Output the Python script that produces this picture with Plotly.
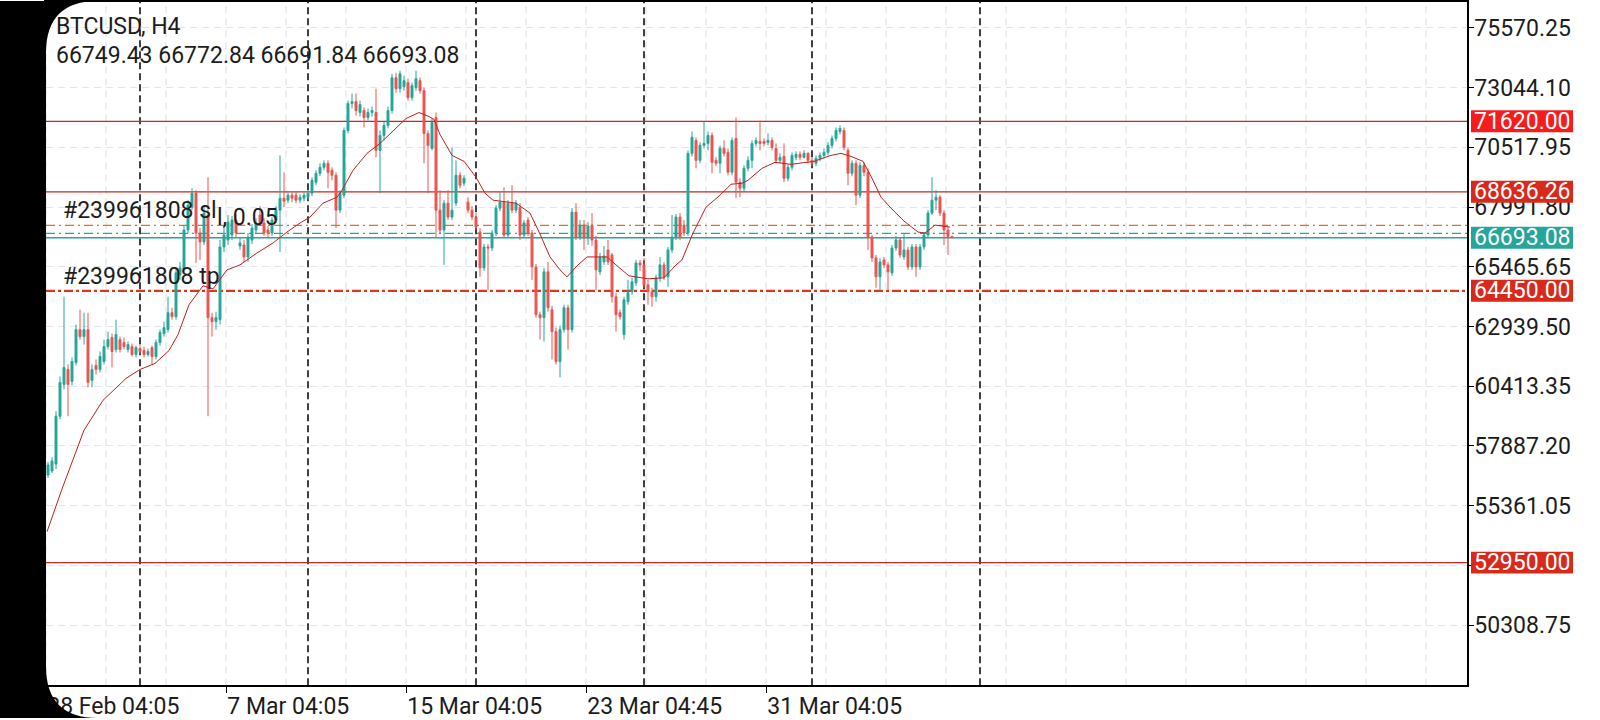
import plotly.graph_objects as go

W, H = 1600, 720
PL, PR, PT, PB = 46, 1467, 1, 687

def px(x):
    return x / W

def py(y):
    return 1 - y / H

symbol_title = "BTCUSD, H4"
ohlc_text = "66749.43 66772.84 66691.84 66693.08"

opens = [56658, 56827, 57121, 59143, 60490, 61123, 60617, 61418, 62807, 62512,
         62807, 60659, 61291, 61123, 61460, 62091, 62470, 61965, 62386, 62260,
         61965, 62091, 61754, 62007, 61923, 61754, 62049, 61670, 62260, 62639,
         62807, 63524, 63355, 65124, 65335, 67019, 67988, 68578, 66893, 66514,
         67651, 63313, 63145, 63229, 66303, 66598, 66809, 67441, 66345, 66387,
         65882, 66598, 67019, 67651, 67315, 67019, 66893, 67441, 67862, 68367,
         68283, 68494, 68494, 68283, 68367, 68409, 68578, 69041, 69420, 69673,
         69842, 69547, 69336, 67862, 68494, 71231, 72369, 72453, 71990, 72074,
         71779, 71990, 71990, 70389, 71021, 71442, 72074, 73464, 73000, 73084,
         73253, 72621, 73042, 73337, 72916, 71105, 70473, 71779, 67862, 67019,
         68157, 67567, 68157, 69336, 68999, 68199, 67862, 67567, 66935, 65419,
         66303, 66261, 66893, 67946, 68199, 66809, 68157, 67862, 67988, 66809,
         67441, 66893, 65461, 63439, 63313, 65251, 63650, 62723, 61460, 62807,
         63734, 62807, 67778, 66724, 67230, 66682, 67230, 66598, 65251, 65672,
         66177, 65966, 64197, 63524, 62596, 63987, 64408, 64787, 65630, 65545,
         64702, 64408, 64197, 64998, 65545, 65040, 66177, 66724, 67567, 67230,
         66893, 70263, 70810, 69968, 70600, 70684, 71021, 69968, 69842, 70473,
         70305, 69463, 70894, 69041, 68788, 69631, 69968, 70684, 70768, 70768,
         70726, 70810, 70473, 69968, 70136, 69210, 69673, 70094, 70221, 70094,
         70263, 69968, 69842, 70052, 70178, 70305, 70600, 70894, 71189, 71231,
         70389, 69420, 69842, 68494, 69757, 69463, 66724, 65840, 65040, 65756,
         65545, 65208, 66261, 66598, 65882, 66177, 65461, 66303, 65461, 66303,
         66809, 67736, 68283, 68409, 67736, 67019, 66749.43]
highs = [57205, 57416, 59354, 60828, 64197, 61333, 61628, 63018, 63650, 63524,
         63524, 61333, 61544, 61881, 62386, 62723, 62639, 63229, 62512, 62470,
         62302, 62218, 62133, 62175, 62091, 62007, 62133, 62386, 62807, 63145,
         64197, 63734, 65419, 65672, 67230, 68283, 68788, 68704, 67104, 68072,
         69252, 63524, 63566, 66598, 67104, 67651, 67609, 67694, 66682, 66598,
         66893, 67273, 67525, 68030, 67525, 67188, 67567, 68030, 70178, 69463,
         68620, 68620, 68662, 68536, 68620, 68704, 69252, 69547, 69842, 69968,
         69968, 69673, 69463, 68704, 71358, 72495, 72790, 72790, 72495, 72200,
         72158, 72242, 73000, 71231, 71611, 72242, 73632, 73674, 73759, 73548,
         73422, 73253, 73759, 73464, 73042, 71231, 71737, 71990, 68704, 68283,
         68704, 70515, 69968, 69463, 69336, 68409, 68030, 67736, 67104, 66430,
         66430, 67019, 68072, 68620, 68830, 68283, 68915, 68283, 68157, 67441,
         67567, 67019, 65588, 63566, 65419, 65672, 63818, 62892, 62976, 63860,
         63860, 67946, 68157, 67441, 67441, 67357, 67736, 66766, 66051, 66345,
         66598, 66051, 64366, 63650, 64197, 64913, 64998, 65756, 65756, 65840,
         64913, 64577, 65124, 65882, 65672, 66303, 67651, 67694, 67736, 67441,
         70389, 71189, 70936, 70726, 71611, 71189, 71147, 70094, 70600, 70810,
         70473, 70936, 71779, 69210, 69757, 70136, 70810, 70936, 71653, 70894,
         71105, 70936, 70684, 70263, 70684, 69799, 70305, 70347, 70347, 70389,
         70305, 70094, 70178, 70305, 70473, 70726, 71021, 71358, 71442, 71358,
         70515, 69968, 69968, 69884, 69884, 69631, 66809, 65966, 65840, 65882,
         65672, 66387, 66766, 66724, 66893, 66303, 66430, 66430, 66430, 66935,
         67862, 69252, 68704, 68494, 67862, 67146, 66772.84]
lows = [56532, 56743, 56911, 59017, 60280, 59143, 60448, 61291, 62386, 62175,
        60364, 60364, 60912, 60997, 61333, 61965, 61207, 61839, 61839, 61965,
        61839, 61670, 61628, 61754, 61628, 61670, 61333, 61544, 62133, 62512,
        62681, 63229, 63229, 64913, 65251, 66893, 67862, 65630, 65756, 66387,
        59143, 62512, 62807, 63018, 66093, 66387, 66598, 66682, 66177, 65672,
        65672, 66430, 66893, 67188, 66766, 66724, 66766, 67315, 66093, 67988,
        68157, 68199, 68157, 68157, 68241, 68283, 68451, 68915, 69294, 69547,
        68788, 69125, 67104, 67736, 68367, 71105, 72158, 71863, 71821, 71358,
        71653, 71821, 70094, 68578, 70810, 71316, 71948, 72832, 72832, 72916,
        72495, 72495, 72916, 72790, 69842, 68578, 70389, 66682, 66893, 65545,
        67441, 67441, 68030, 68788, 68873, 67736, 67441, 67019, 65040, 65293,
        64492, 66135, 66766, 67820, 66682, 66682, 67736, 67736, 66598, 66682,
        66766, 64913, 63313, 62386, 62302, 63566, 61544, 61333, 60786, 62681,
        61965, 62681, 66598, 66598, 66177, 66387, 66345, 64492, 65124, 65545,
        65545, 63945, 62723, 63229, 62386, 63860, 64281, 64661, 65293, 64577,
        63860, 63776, 63987, 64829, 64913, 64619, 66051, 66598, 66598, 66766,
        66766, 70136, 69631, 69842, 70473, 70389, 69420, 69715, 69420, 70136,
        69336, 69336, 68367, 68409, 68662, 69505, 69631, 70557, 70389, 70557,
        70600, 70389, 69842, 69842, 69041, 69083, 69547, 69968, 69968, 70052,
        69842, 69715, 69715, 69926, 70052, 70178, 70473, 70768, 71063, 70389,
        68915, 69294, 68072, 68367, 69294, 66177, 65672, 64577, 64492, 65419,
        64492, 65082, 66135, 65840, 65756, 65335, 65335, 65040, 65335, 66177,
        66682, 67651, 67862, 67609, 66387, 65966, 66691.84]
closes = [57079, 57248, 59143, 60575, 61207, 60490, 61460, 62807, 62512, 62807,
          60575, 61123, 61123, 61670, 62091, 62386, 61881, 62596, 61965, 62091,
          62175, 61754, 62049, 61881, 61754, 61881, 61670, 62260, 62681, 62892,
          63524, 63355, 65208, 65419, 67019, 68072, 68578, 66893, 66514, 67736,
          63313, 63145, 63313, 66303, 66809, 67357, 67441, 66893, 66472, 65882,
          66724, 67104, 67315, 67315, 66893, 66893, 67441, 67862, 68367, 68241,
          68494, 68367, 68283, 68409, 68494, 68578, 69125, 69420, 69673, 69842,
          69463, 69336, 67862, 68578, 71231, 72369, 72453, 72074, 72327, 71779,
          71990, 72074, 70389, 71021, 71442, 72074, 73464, 73000, 73632, 73337,
          72621, 73126, 73422, 72916, 71105, 70600, 71569, 67862, 67019, 68157,
          67567, 67862, 69336, 68915, 69210, 67862, 67567, 67146, 65419, 66303,
          66261, 66893, 67946, 68199, 66809, 68157, 67862, 68157, 66809, 67315,
          66893, 65461, 63439, 63313, 65251, 63734, 62723, 61460, 62807, 63734,
          62807, 67778, 66724, 67230, 66682, 67188, 66598, 65335, 65882, 65924,
          65672, 64197, 63439, 63355, 64071, 64366, 64829, 65630, 65545, 64702,
          64408, 64197, 64998, 65545, 65040, 66177, 66724, 67567, 66724, 66893,
          70263, 70936, 69968, 70600, 70684, 71021, 69884, 69842, 70473, 70263,
          69463, 70810, 69041, 68788, 69631, 69968, 70684, 70810, 70684, 70684,
          70810, 70515, 69968, 70094, 69210, 69673, 70178, 70221, 70094, 70263,
          69968, 69842, 70052, 70178, 70305, 70600, 70894, 71231, 71316, 70515,
          69420, 69842, 68494, 69757, 69463, 66724, 65840, 65040, 65672, 65545,
          65251, 66261, 66598, 65966, 66177, 65461, 66303, 65461, 66303, 66809,
          67736, 68283, 68409, 67736, 67019, 66749.43, 66693.08]

ma_index = [-0.25, 3.5, 9, 13.75, 19.5, 23, 26.75, 30.25, 32.5, 35.25, 38.75, 41.25,
            44.75, 48, 52.25, 56.25, 59.75, 63, 65.5, 68.75, 72.25, 73.5, 76.25, 79.75,
            83, 86.25, 89.5, 92.75, 95.25, 96.5, 98, 101, 104, 107, 109.25, 111.25,
            117, 120.5, 123, 125.5, 128, 129.75, 132.25, 134.75, 139.75, 142, 145.25,
            150, 154, 157, 158.5, 161.25, 164.5, 168, 170.75, 173.5, 175, 178.5,
            181.75, 185.75, 191.5, 195.75, 198.25, 200.75, 203.75, 206, 208.25,
            210.75, 214, 217.5, 219.25, 221.75, 224.25, 225.5]
ma_values = [54257, 56068, 58553, 59817, 60743, 61123, 61376, 61923, 62596, 63860, 64661, 64534,
             65335, 65545, 66051, 66472, 66935, 67315, 67567, 68157, 68409, 68704, 69547, 70263,
             70684, 71231, 71737, 71990, 71821, 71695, 71063, 70178, 69926, 69252, 68578, 68283,
             68157, 67736, 66851, 65882, 65335, 65040, 65503, 65882, 65882, 65545, 65082,
             64956, 64998, 65545, 65756, 66893, 67988, 68494, 68957, 68999, 69125, 69631,
             69884, 69799, 69926, 70178, 70263, 70136, 69926, 69210, 68409,
             67946, 67399, 66935, 66893, 67230, 67188, 67146]

y_ticks = [50308.75, 52834.90, 55361.05, 57887.20, 60413.35, 62939.50,
           65465.65, 67991.80, 70517.95, 73044.10, 75570.25]
y_range = [47769, 76666]

x_tick_index = [-0.5, 44.5, 89.5, 134.5, 179.5]
x_tick_labels = ["28 Feb 04:05", "7 Mar 04:05", "15 Mar 04:05", "23 Mar 04:45", "31 Mar 04:05"]
x_range = [-0.5, 354.75]
grid_index = [-0.5 + 15 * k for k in range(24)]
separator_index = [23, 65, 107, 149, 191, 233]

level_prices = [71620.00, 68636.26, 52950.00]
tp_price = 64450.00
sl_price = 67218
entry_price = 66881
bid_price = 66693.08

price_labels = [71620.00, 68636.26, 66693.08, 64450.00, 52950.00]
price_label_colors = ["#f71b1b", "#d9291b", "#26a69a", "#d9291b", "#d9291b"]

TEAL = "#26a69a"
RED = "#ef5350"
LEVEL_RED = "#c4281f"
GRID = "#dfe5ea"
FONT = "Roboto"


def price_to_py(p):
    return PT + (y_range[1] - p) / (y_range[1] - y_range[0]) * (PB - PT)


fig = go.Figure()
n = len(opens)
fig.add_trace(go.Candlestick(
    x=list(range(n)), open=opens, high=highs, low=lows, close=closes,
    increasing=dict(line=dict(color=TEAL, width=1), fillcolor=TEAL),
    decreasing=dict(line=dict(color=RED, width=1), fillcolor=RED),
    whiskerwidth=0, showlegend=False, hoverinfo="skip"))
fig.add_trace(go.Scatter(
    x=ma_index, y=ma_values, mode="lines",
    line=dict(color="#c0201a", width=1), showlegend=False, hoverinfo="skip"))

shapes = []
for g in grid_index:
    shapes.append(dict(type="line", xref="x", yref="paper", x0=g, x1=g,
                       y0=py(PB), y1=py(PT), layer="below",
                       line=dict(color=GRID, width=1.2, dash="7px,5px")))
for s in separator_index:
    shapes.append(dict(type="line", xref="x", yref="paper", x0=s, x1=s,
                       y0=py(PB), y1=py(PT), layer="between",
                       line=dict(color="#000000", width=1.5, dash="7px,4px")))
for lv in level_prices:
    shapes.append(dict(type="line", xref="paper", yref="y", x0=px(PL), x1=px(PR),
                       y0=lv, y1=lv, layer="between",
                       line=dict(color=LEVEL_RED, width=1.3)))
shapes.append(dict(type="line", xref="paper", yref="y", x0=px(PL), x1=px(PR),
                   y0=tp_price, y1=tp_price, layer="between",
                   line=dict(color="#e0341c", width=2.2, dash="9px,3px,3px,3px")))
shapes.append(dict(type="line", xref="paper", yref="y", x0=px(PL), x1=px(PR),
                   y0=sl_price, y1=sl_price, layer="between",
                   line=dict(color="#e0702e", width=1.2, dash="9px,4px,2px,4px")))
shapes.append(dict(type="line", xref="paper", yref="y", x0=px(PL), x1=px(PR),
                   y0=entry_price, y1=entry_price, layer="between",
                   line=dict(color=TEAL, width=1.2, dash="9px,4px,2px,4px")))
shapes.append(dict(type="line", xref="paper", yref="y", x0=px(PL), x1=px(PR),
                   y0=bid_price, y1=bid_price, layer="between",
                   line=dict(color=TEAL, width=1.3)))
# price label boxes on the right axis (cover the tick labels beneath them)
for p, c in zip(price_labels, price_label_colors):
    yc = price_to_py(p)
    shapes.append(dict(type="rect", xref="paper", yref="paper",
                       x0=px(1471), x1=px(1573), y0=py(yc + 11), y1=py(yc - 11),
                       fillcolor=c, line=dict(width=0), layer="above"))
# phone screen rounded black edge
corner = (f"M 0,1 L {px(98)},1 Q {px(46)},1 {px(46)},{py(52)} "
          f"L {px(46)},{py(668)} Q {px(46)},0 {px(98)},0 L 0,0 Z")
shapes.append(dict(type="path", xref="paper", yref="paper", path=corner,
                   fillcolor="#000000", line=dict(width=0), layer="above"))

annotations = [
    dict(text=symbol_title, x=px(54), y=py(25.5)),
    dict(text=ohlc_text, x=px(54), y=py(55)),
    dict(text="#239961808 tp", x=px(61), y=py(276.5)),
    dict(text="l, 0.05", x=px(215), y=py(217.5)),
    dict(text="#239961808 sl", x=px(61), y=py(210)),
]
for a in annotations:
    a.update(xref="paper", yref="paper", xanchor="left", yanchor="middle",
             showarrow=False, font=dict(family=FONT, size=23, color="#1c1c1c"))
for p in price_labels:
    annotations.append(dict(text=f"{p:.2f}", xref="paper", yref="paper", x=px(1522),
                            y=py(price_to_py(p)), xanchor="center", yanchor="middle",
                            showarrow=False,
                            font=dict(family=FONT, size=23, color="#ffffff")))

fig.update_layout(
    width=W, height=H, margin=dict(l=0, r=0, t=0, b=0),
    paper_bgcolor="#ffffff", plot_bgcolor="#ffffff",
    font=dict(family=FONT, size=23, color="#1c1c1c"),
    shapes=shapes, annotations=annotations, showlegend=False,
    xaxis=dict(domain=[px(PL), px(PR)], range=x_range, rangeslider=dict(visible=False),
               showgrid=False, zeroline=False, showline=True, linecolor="#000000",
               linewidth=1.5, mirror=True, tickmode="array", tickvals=x_tick_index,
               ticktext=x_tick_labels, ticks="outside", ticklen=6, tickcolor="#000000",
               ticklabelposition="outside right", tickfont=dict(family=FONT, size=23)),
    yaxis=dict(domain=[py(PB), py(PT)], range=y_range, side="right",
               tickmode="array", tickvals=y_ticks, ticktext=[f"{v:.2f}" for v in y_ticks],
               ticks="outside", ticklen=5, tickcolor="#000000", ticklabelstandoff=-4,
               showgrid=True, gridcolor=GRID, gridwidth=1.2, griddash="7px,5px",
               zeroline=False, showline=True, linecolor="#000000", linewidth=1.5,
               mirror=True, tickfont=dict(family=FONT, size=23)),
)

fig.write_html("out.html", config={"displayModeBar": False},
               post_script="document.body.style.margin='0';document.body.style.overflow='hidden';")
